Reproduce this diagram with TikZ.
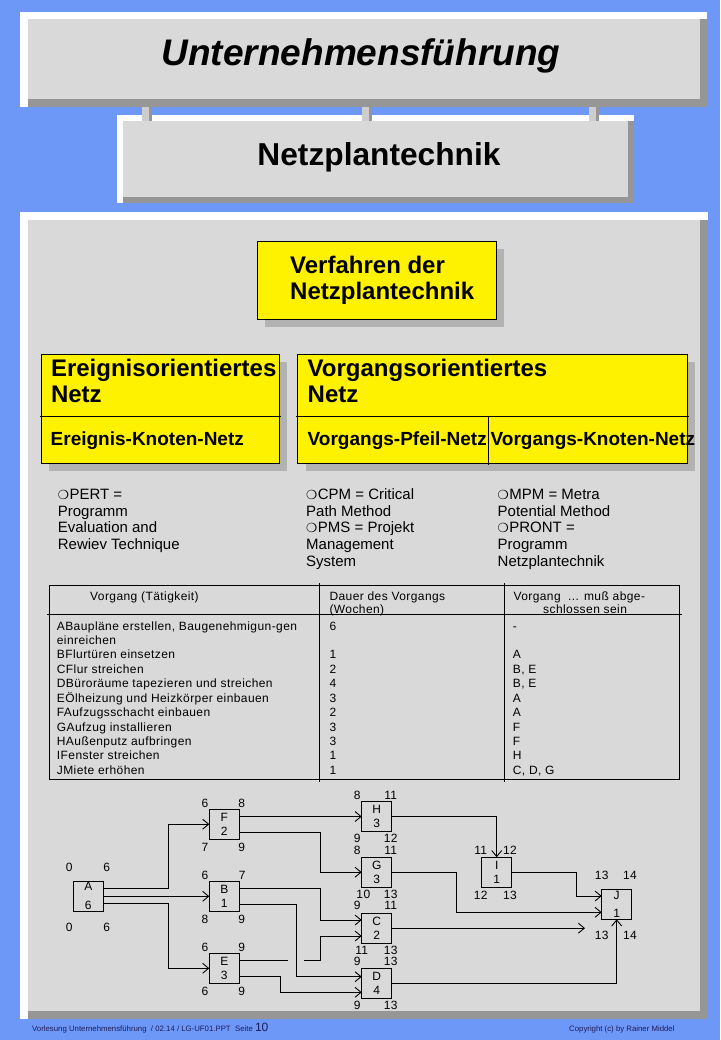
\documentclass[tikz,border=0pt]{standalone}
\usepackage{fontspec}
\setmainfont{Liberation Sans}
\newfontfamily\tabfont{Liberation Sans}[LetterSpace=3.5]
\newfontfamily\dingfont{DejaVu Sans}
\usetikzlibrary{arrows.meta,calc,positioning,shadows}
\definecolor{slideblue}{RGB}{110,152,248}
\definecolor{panelgray}{RGB}{217,217,217}
\definecolor{bevelgray}{RGB}{150,150,150}
\definecolor{stublight}{RGB}{205,205,205}
\definecolor{boxshadow}{RGB}{178,178,178}
\definecolor{footerink}{RGB}{28,28,90}
\newcommand{\bul}{{\dingfont\fontsize{12.5}{12}\selectfont ❍}\hspace{0.5pt}}
% raised slide frame: x0, y0, x1, y1, bevel width
\newcommand{\bevelbox}[5]{%
  \fill[bevelgray] (#1,#2) rectangle (#3,#4);
  \fill[white] (#1,#2) rectangle (#3,{#2+#5});
  \fill[white] (#1,#2) rectangle ({#1+#5},#4);
  \fill[panelgray] ({#1+#5},{#2+#5}) rectangle ({#3-#5},{#4-#5});
}
\tikzset{
  yellowbox/.style={draw=black, line width=0.8pt, fill=yellow, inner sep=0pt, outer sep=0pt, drop shadow={shadow xshift=8pt, shadow yshift=-8pt, fill=boxshadow, opacity=1}},
  headtext/.style={font=\bfseries\fontsize{24}{26}\selectfont, align=left, inner sep=0pt, anchor=base west},
  subtext/.style={font=\bfseries\fontsize{19}{22}\selectfont, inner sep=0pt, anchor=base west},
  bullettext/.style={font=\fontsize{15}{16.7}\selectfont, align=left, inner sep=0pt, anchor=base west},
  tabletext/.style={font=\tabfont\fontsize{12}{14.43}\selectfont, align=left, inner sep=0pt, anchor=base west},
  activity/.style={draw=black, line width=0.8pt, minimum width=30pt, minimum height=30pt, inner sep=0pt, outer sep=0pt, align=center, font=\tabfont\fontsize{12}{14}\selectfont},
  num/.style={font=\tabfont\fontsize{12}{14}\selectfont, inner sep=0pt},
  link/.style={line width=0.9pt},
  flow/.style={link, -{Straight Barb[length=6pt,width=10pt]}},
  rule/.style={line width=0.8pt},
  foottext/.style={font=\fontsize{7.8}{9}\selectfont, text=footerink, inner sep=0pt, anchor=base west}
}
\begin{document}
\begin{tikzpicture}[x=1pt,y=-1pt]
  \useasboundingbox (0,0) rectangle (720,1040);
  \fill[slideblue] (0,0) rectangle (720,1040);

  % header frames
  \bevelbox{20}{12}{707}{107}{7.5}
  \bevelbox{117}{115}{634}{203}{6}
  \bevelbox{20}{212}{708}{1019}{8}
  \foreach \sx in {142,362,589}{
    \fill[stublight] (\sx,107) rectangle ({\sx+6.5},121);
    \fill[bevelgray] ({\sx+6.5},107) rectangle ({\sx+10},121);
  }
  \node[font=\bfseries\itshape\fontsize{37}{40}\selectfont, inner sep=0pt, anchor=base] (title) at (361,66) {Unternehmensführung};
  \node[font=\bfseries\fontsize{31.7}{34}\selectfont, inner sep=0pt, anchor=base] (subtitle) at (379,166) {Netzplantechnik};

  % yellow boxes (multi-line texts sit on their last baseline)
  \node[yellowbox, minimum width=239pt, minimum height=78pt] (verf) at (376.5,280) {};
  \node[headtext] (verftxt) at (290,299) {Verfahren der\\Netzplantechnik};
  \node[yellowbox, minimum width=238pt, minimum height=109pt] (ereig) at (160,408.5) {};
  \node[yellowbox, minimum width=389.4pt, minimum height=109pt] (vorg) at (492.3,408.5) {};
  \draw[rule] ($(ereig.north west)+(-1.5,62)$) -- ($(ereig.north east)+(1.5,62)$);
  \draw[rule] ($(vorg.north west)+(-1.5,62)$) -- ($(vorg.north east)+(1.5,62)$);
  \draw[rule] ($(vorg.north west)+(190.4,62)$) -- ($(vorg.south west)+(190.4,1.5)$);
  \node[headtext] (ereigtxt) at (50.8,402.7) {Ereignisorientiertes\\Netz};
  \node[subtext] (ekn) at (50.5,445) {Ereignis-Knoten-Netz};
  \node[headtext] (vorgtxt) at (307.5,402.7) {Vorgangsorientiertes\\Netz};
  \node[subtext] (vpn) at (307.5,445) {Vorgangs-Pfeil-Netz};
  \node[subtext] (vkn) at (490.5,445) {Vorgangs-Knoten-Netz};

  % methods
  \node[bullettext] (pert) at (57.7,549.6) {\bul PERT =\\Programm\\Evaluation and\\Rewiev Technique};
  \node[bullettext] (cpm) at (306,566.3) {\bul CPM = Critical\\Path Method\\\bul PMS = Projekt\\Management\\System};
  \node[bullettext] (mpm) at (497.5,566.3) {\bul MPM = Metra\\Potential Method\\\bul PRONT =\\Programm\\Netzplantechnik};

  % table
  \draw[rule] (49,585) rectangle (679.3,779);
  \draw[rule] (47,614.3) -- (681.7,614.3);
  \foreach \cx in {319.3,504.3} \draw[rule] (\cx,583) -- (\cx,782);
  \node[tabletext] (hvorgang) at (90,600.7) {Vorgang (Tätigkeit)};
  \node[tabletext, font=\tabfont\fontsize{12}{12.6}\selectfont] (hdauer) at (329.3,613.3) {Dauer des Vorgangs\\(Wochen)};
  \node[tabletext] (hvor1) at (513.3,600.7) {Vorgang\ \ ... muß abge-};
  \node[tabletext] (hvor2) at (543,613.3) {schlossen sein};
  \node[tabletext] (colact) at (56.7,774.3) {ABaupläne erstellen, Baugenehmigun-gen\\einreichen\\BFlurtüren einsetzen\\CFlur streichen\\DBüroräume tapezieren und streichen\\EÖlheizung und Heizkörper einbauen\\FAufzugsschacht einbauen\\GAufzug installieren\\HAußenputz aufbringen\\IFenster streichen\\JMiete erhöhen};
  \node[tabletext] (coldur) at (329.3,774.3) {6\\~\\1\\2\\4\\3\\2\\3\\3\\1\\1};
  \node[tabletext] (colpre) at (512.7,774.3) {-\\~\\A\\B, E\\B, E\\A\\A\\F\\F\\H\\C, D, G};

  % network
  \node[activity] (A) at (88.3,896.3) {A\\[5pt]6};
  \node[activity] (F) at (224.3,824.2) {F\\2};
  \node[activity] (B) at (224.3,896.3) {B\\1};
  \node[activity] (E) at (224.3,968.3) {E\\3};
  \node[activity] (H) at (376.7,816.5) {H\\3};
  \node[activity] (G) at (376.7,872.2) {G\\3};
  \node[activity] (C) at (376.7,928.2) {C\\2};
  \node[activity] (D) at (376.7,983.7) {D\\4};
  \node[activity] (I) at (496.7,872.2) {I\\1};
  \node[activity] (J) at (616.7,904.3) {J\\[4.7pt]1};
  \foreach \nm/\px/\py/\val in {
    Atl/69.3/867.7/0, Atr/106.7/867.7/6, Abl/69.3/927.7/0, Abr/106.7/927.7/6,
    Ftl/205/803.3/6, Ftr/241.7/803.3/8, Fbl/205/847.3/7, Fbr/241.7/847.3/9,
    Btl/205/875/6, Btr/242.3/875/7, Bbl/205/919.3/8, Bbr/241.7/919.3/9,
    Etl/205/947.3/6, Etr/241.7/947.3/9, Ebl/205/991.7/6, Ebr/241.7/991.7/9,
    Htl/357.3/795/8, Htr/390.7/795/11, Hbl/357.3/838.3/9, Hbr/390.7/838.3/12,
    Gtl/357.3/850/8, Gtr/390.7/850/11, Gbl/363.3/894/10, Gbr/390.7/894/13,
    Ctl/357.3/905.7/9, Ctr/390.7/905.7/11, Cbl/361.7/950/11, Cbr/390.7/950/13,
    Dtl/357.3/961.7/9, Dtr/390.7/961.7/13, Dbl/357.3/1005.7/9, Dbr/390.7/1005.7/13,
    Itl/480.7/850.7/11, Itr/510/850.7/12, Ibl/480.7/895/12, Ibr/510/895/13,
    Jtl/601.7/875/13, Jtr/630/875/14, Jbl/601.7/935/13, Jbr/630/935/14}
    \node[num] (\nm) at (\px,\py) {\val};

  \draw[flow] ([yshift=8pt]A.east) -- ++(65,0) |- (F.west);
  \draw[flow] (A.east) -- (B.west);
  \draw[flow] ([yshift=-7pt]A.east) -- ++(65,0) |- (E.west);
  \draw[flow] ([yshift=7.7pt]F.east) -- (H.west);
  \draw[flow] ([yshift=-8pt]F.east) -- ++(80.7,0) |- (G.west);
  \draw[flow] ([yshift=8pt]B.east) -- ++(80.7,0) |- ([yshift=8.2pt]C.west);
  \draw[flow] ([yshift=-7.7pt]B.east) -- ++(57.4,0) |- ([yshift=7pt]D.west);
  \draw[link] ([yshift=8.3pt]E.east) -- ++(49,0) coordinate (gapL);
  \draw[flow] ($(gapL)+(16,0)$) -- ++(15.7,0) |- ([yshift=-7.8pt]C.west);
  \draw[flow] ([yshift=-7.7pt]E.east) -- ++(40.7,0) |- ([yshift=-8.6pt]D.west);
  \draw[flow] (H.east) -| (I.north);
  \draw[flow] (G.east) -- ++(65,0) |- ([yshift=-8pt]J.west);
  \draw[flow] (I.east) -- ++(65,0) |- ([yshift=8.3pt]J.west);
  \draw[flow] (C.east) -- ++(193.3,0) coordinate (cend);
  \draw[flow] (D.east) -| (J.south);

  % footer
  \node[foottext] (footl) at (32,1031) {Vorlesung Unternehmensführung\ \ / 02.14 / LG-UF01.PPT\ \ Seite {\fontsize{12}{12}\selectfont 10}};
  \node[foottext] (footr) at (569,1031) {Copyright (c) by Rainer Middel};
\end{tikzpicture}
\end{document}
